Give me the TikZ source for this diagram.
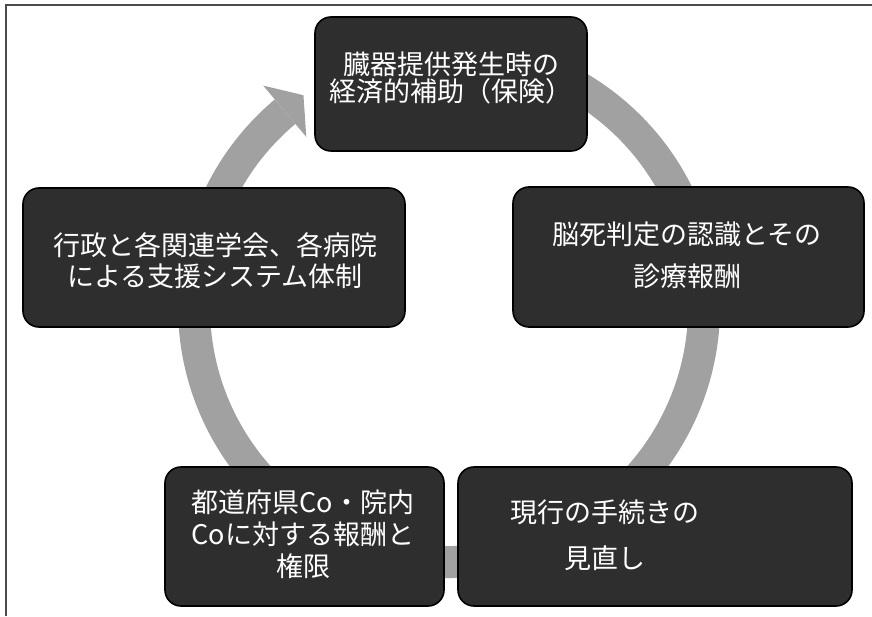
\documentclass[tikz,border=0pt]{standalone}
\usepackage{fontspec}
\newfontfamily\jp{Noto Sans CJK JP}
\usetikzlibrary{calc}
\begin{document}
\begin{tikzpicture}[x=1pt,y=1pt,
  frame/.style={draw=black!70, line width=1.3pt},
  ring/.style={draw=black!37, line width=32pt},
  ringhead/.style={fill=black!37},
  box/.style={draw=black, line width=1.6pt, fill=black!82, rounded corners=16pt, inner sep=0pt},
  lbl/.style={text=white, align=center, inner sep=0pt},
  sp/.style={font=\jp\fontsize{27}{#1}\selectfont}
]
\useasboundingbox (0,0) rectangle (872,616);
\draw[frame] (6,0) -- (6,611) -- (872,611);

% circular arrow
\coordinate (c) at (449,309);
\coordinate (a0) at ($(c)+(100:255)$);
\draw[ring] (a0) arc[start angle=100, end angle=-230, radius=255];
\fill[ringhead] ($(c)+(130:289)$) -- ($(c)+(124.5:257)$) -- ($(c)+(130:222)$) -- cycle;

% boxes
\node[box, minimum width=272pt, minimum height=134pt] (top) at (451,532) {};
\node[box, minimum width=351pt, minimum height=140pt] (right) at (688.5,359) {};
\node[box, minimum width=382pt, minimum height=139pt] (left) at (214,358.5) {};
\node[box, minimum width=279pt, minimum height=139pt] (bl) at (304.5,79.5) {};
\node[box, minimum width=394pt, minimum height=139pt] (br) at (655,79.5) {};

% labels
\node[lbl, sp=26.5] (ttop) at (451,538) {臓器提供発生時の\\経済的補助（保険）};
\node[lbl, sp=42] (tright) at (687,361) {脳死判定の認識とその\\診療報酬};
\node[lbl, sp=31] (tleft) at (215,355.5) {行政と各関連学会、各病院\\による支援システム体制};
\node[lbl, sp=32] (tbl) at (303,82) {都道府県Co・院内\\Coに対する報酬と\\権限};
\node[lbl, sp=46] (tbr) at (605,81) {現行の手続きの\\見直し};
\end{tikzpicture}
\end{document}
